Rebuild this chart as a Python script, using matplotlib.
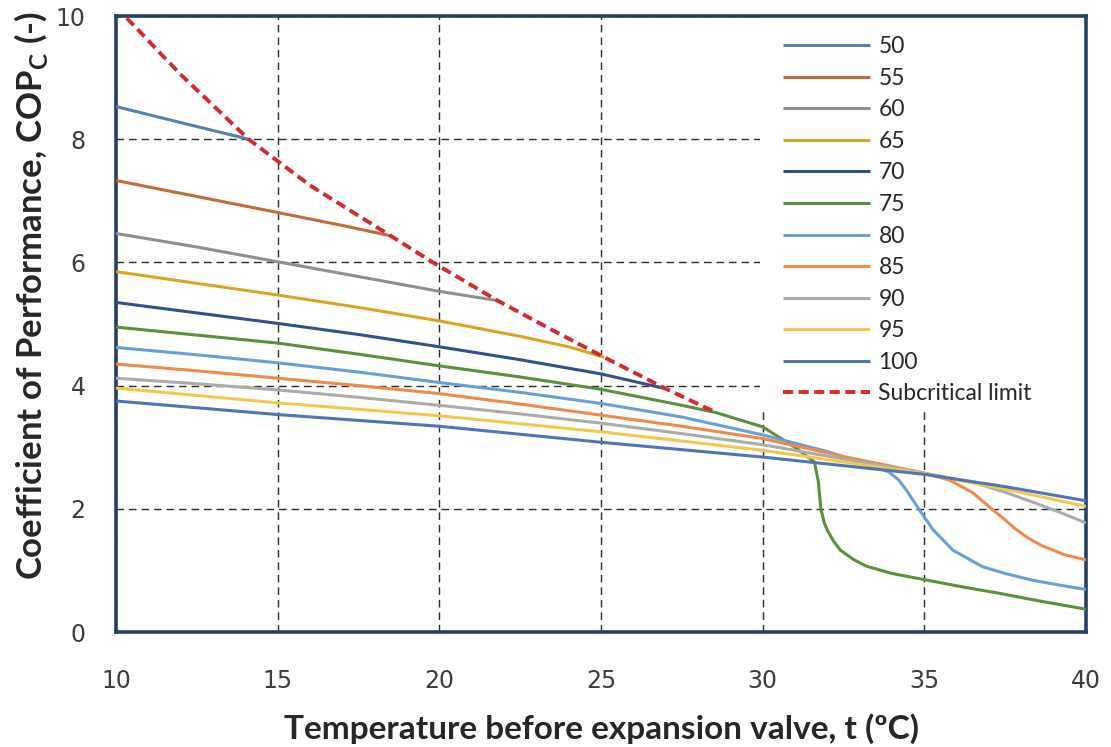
import matplotlib
matplotlib.use("Agg")
import matplotlib.pyplot as plt
from matplotlib.patches import Rectangle

plt.rcParams['mathtext.fontset'] = 'custom'
plt.rcParams['mathtext.bf'] = 'Lato:bold'
plt.rcParams['mathtext.rm'] = 'Lato:bold'

# discharge pressure series (bar) -> (t, COP)
labels = ['50', '55', '60', '65', '70', '75', '80', '85', '90', '95', '100']
colors = ['#5580B0', '#C46A38', '#8F8F8F', '#D6A620', '#34508A', '#5C8F3C',
          '#67A0D6', '#EE8A4A', '#ABABAB', '#F2C84A', '#4F74B8']

t50 = [10, 12, 14.1]
cop50 = [8.53, 8.27, 8.0]
t55 = [10, 12.5, 15, 17, 18.5]
cop55 = [7.33, 7.07, 6.81, 6.60, 6.43]
t60 = [10, 12.5, 15, 17.5, 20, 21.8]
cop60 = [6.47, 6.25, 6.01, 5.77, 5.53, 5.38]
t65 = [10, 12.5, 15, 17.5, 20, 22.5, 24, 25.1]
cop65 = [5.85, 5.66, 5.47, 5.27, 5.05, 4.80, 4.63, 4.46]
t70 = [10, 12.5, 15, 17.5, 20, 22.5, 25, 27.0]
cop70 = [5.35, 5.18, 5.01, 4.83, 4.63, 4.42, 4.19, 3.95]
t75 = [10, 12.5, 15, 17.5, 20, 22.5, 25, 27.5, 28.57, 30, 31, 31.6, 31.72,
       31.8, 31.9, 32.0, 32.2, 32.4, 32.8, 33.2, 34, 35, 36.2, 37.3, 38.6, 40]
cop75 = [4.95, 4.82, 4.69, 4.51, 4.32, 4.14, 3.94, 3.68, 3.56, 3.33, 3.0,
         2.76, 2.45, 2.0, 1.78, 1.65, 1.47, 1.33, 1.18, 1.07, 0.95, 0.85,
         0.73, 0.63, 0.5, 0.37]
t80 = [10, 12.5, 15, 17.5, 20, 22.5, 25, 27.5, 30, 32, 33, 33.9, 34.2, 34.45,
       34.85, 35.27, 35.88, 36.8, 37.5, 38.35, 39.2, 40]
cop80 = [4.62, 4.50, 4.37, 4.22, 4.05, 3.89, 3.71, 3.49, 3.20, 2.93, 2.76,
         2.6, 2.47, 2.30, 1.98, 1.66, 1.33, 1.06, 0.95, 0.84, 0.76, 0.69]
t85 = [10, 12.5, 15, 17.5, 20, 22.5, 25, 27.5, 30, 32.5, 35, 35.8, 36.5, 37.1,
       37.5, 37.8, 38.2, 38.6, 39.3, 40]
cop85 = [4.35, 4.24, 4.12, 4.0, 3.87, 3.70, 3.52, 3.34, 3.14, 2.85, 2.58,
         2.46, 2.26, 1.99, 1.82, 1.68, 1.53, 1.41, 1.26, 1.17]
t90 = [10, 12.5, 15, 17.5, 20, 22.5, 25, 27.5, 30, 32.5, 35, 36.5, 37.5, 38.5,
       39.3, 40]
cop90 = [4.12, 4.03, 3.93, 3.81, 3.68, 3.54, 3.39, 3.22, 3.04, 2.81, 2.58,
         2.43, 2.27, 2.08, 1.92, 1.77]
t95 = [10, 15, 20, 25, 30, 32.5, 35, 37.5, 40]
cop95 = [3.96, 3.72, 3.51, 3.25, 2.95, 2.76, 2.57, 2.32, 2.04]
t100 = [10, 15, 20, 25, 30, 32.5, 35, 37.5, 40]
cop100 = [3.75, 3.53, 3.34, 3.08, 2.84, 2.70, 2.56, 2.36, 2.13]

# subcritical limit
t_lim = [10, 12, 14.1, 16, 18.5, 19.8, 21.8, 23.5, 25.1, 27.0, 28.57]
cop_lim = [10.15, 9.05, 8.0, 7.25, 6.43, 6.0, 5.38, 4.9, 4.46, 3.95, 3.56]

series_t = [t50, t55, t60, t65, t70, t75, t80, t85, t90, t95, t100]
series_cop = [cop50, cop55, cop60, cop65, cop70, cop75, cop80, cop85, cop90,
              cop95, cop100]

xticks = [10, 15, 20, 25, 30, 35, 40]
yticks = [0, 2, 4, 6, 8, 10]

fig = plt.figure(figsize=(11.11, 7.47), dpi=100)
ax = fig.add_axes([116/1111, 1 - 632/747, 970/1111, 616/747])

for t, c, lab, col in zip(series_t, series_cop, labels, colors):
    ax.plot(t, c, color=col, lw=2.2, label=lab, zorder=3,
            solid_joinstyle='round', solid_capstyle='butt')
ax.plot(t_lim, cop_lim, color='#D42A2E', lw=2.8, dashes=(2.6, 1.4),
        label='Subcritical limit', zorder=4)

ax.set_xlim(10, 40)
ax.set_ylim(0, 10)
ax.set_xticks(xticks)
ax.set_yticks(yticks)
ax.grid(True, color='#2b2b2b', lw=1.0, dashes=(5.5, 3.5))
ax.set_axisbelow(True)
ax.tick_params(length=0, labelsize=17, labelcolor='#3c3c3c')
ax.tick_params(axis='x', pad=27)
ax.tick_params(axis='y', pad=22)

for sp in ax.spines.values():
    sp.set_color('#243F62')
    sp.set_linewidth(2.6)

# white box behind the legend hides the grid there
ax.add_patch(Rectangle((0.664, 0.362), 0.336, 0.638, transform=ax.transAxes,
                       facecolor='white', edgecolor='none', zorder=1))

leg = ax.legend(loc='upper left', bbox_to_anchor=(0.688, 0.967),
                frameon=False, borderpad=0, borderaxespad=0,
                handlelength=3.8, handletextpad=0.35, labelspacing=0.46,
                prop={'family': 'Lato', 'size': 16.5})
for txt in leg.get_texts():
    txt.set_color('#262626')

ax.set_xlabel('Temperature before expansion valve, t (ºC)', fontsize=24,
              fontweight='bold', family='Lato', color='#262626', labelpad=14)
ax.set_ylabel(r'Coefficient of Performance, COP$_\mathbf{C}$ (-)', fontsize=25,
              fontweight='bold', family='Lato', color='#262626')
ax.yaxis.set_label_coords(-0.0685, 0.547)

fig.savefig('out.png', dpi=100)
